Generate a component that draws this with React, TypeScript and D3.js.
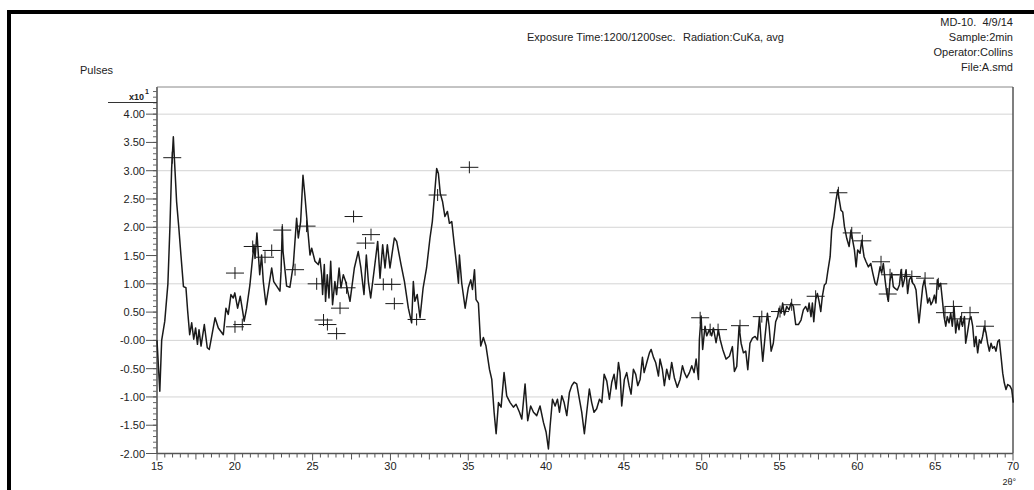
import React from "react";
import * as d3 from "d3";

// 2-theta positions and pulse counts (x10)
const twoTheta = [
  15.0, 15.1, 15.18, 15.3, 15.5, 15.7, 15.83, 15.94, 16.05, 16.12, 16.26, 16.4, 16.54, 16.7, 16.86, 16.97,
  17.1, 17.23, 17.36, 17.48, 17.6, 17.7, 17.83, 18.04, 18.23, 18.36, 18.5, 18.73, 18.94, 19.26, 19.43, 19.58,
  19.75, 19.9, 20.0, 20.18, 20.35, 20.5, 20.6, 20.76, 20.97, 21.12, 21.23, 21.3, 21.42, 21.6, 21.72, 21.83,
  22.0, 22.2, 22.37, 22.5, 22.9, 22.97, 23.05, 23.1, 23.33, 23.54, 23.76, 23.97, 24.08, 24.23, 24.38, 24.5,
  24.68, 24.83, 24.94, 25.15, 25.36, 25.47, 25.58, 25.64, 25.75, 25.83, 25.94, 26.05, 26.16, 26.28, 26.43, 26.54,
  26.7, 26.82, 26.97, 27.12, 27.4, 27.68, 27.93, 28.1, 28.3, 28.45, 28.58, 28.73, 28.97, 29.18, 29.33, 29.5,
  29.65, 29.8, 29.97, 30.25, 30.4, 30.68, 30.9, 31.15, 31.36, 31.47, 31.57, 31.72, 31.9, 32.1, 32.32, 32.54,
  32.69, 32.97, 33.08, 33.2, 33.35, 33.5, 33.66, 33.79, 33.94, 34.09, 34.26, 34.37, 34.43, 34.58, 34.8, 35.0,
  35.16, 35.27, 35.4, 35.5, 35.65, 35.8, 35.97, 36.14, 36.36, 36.51, 36.66, 36.79, 36.94, 37.11, 37.3, 37.47,
  37.69, 37.9, 38.07, 38.29, 38.44, 38.65, 38.82, 39.01, 39.19, 39.4, 39.61, 39.83, 40.0, 40.15, 40.26, 40.41,
  40.58, 40.73, 40.86, 41.01, 41.16, 41.33, 41.5, 41.65, 41.8, 41.97, 42.14, 42.29, 42.46, 42.61, 42.78, 42.93,
  43.08, 43.25, 43.43, 43.58, 43.73, 43.9, 44.07, 44.22, 44.37, 44.5, 44.65, 44.75, 44.86, 45.03, 45.18, 45.33,
  45.46, 45.61, 45.76, 45.89, 46.04, 46.19, 46.3, 46.47, 46.64, 46.75, 46.9, 47.04, 47.22, 47.32, 47.47, 47.6,
  47.75, 47.92, 48.07, 48.24, 48.43, 48.61, 48.76, 48.89, 49.04, 49.21, 49.36, 49.51, 49.64, 49.79, 49.85, 49.96,
  50.06, 50.21, 50.32, 50.49, 50.64, 50.75, 50.92, 51.07, 51.18, 51.35, 51.56, 51.78, 51.97, 52.1, 52.25, 52.4,
  52.53, 52.68, 52.83, 52.96, 53.1, 53.26, 53.43, 53.58, 53.71, 53.81, 53.92, 54.07, 54.22, 54.33, 54.46, 54.6,
  54.75, 54.88, 54.97, 55.1, 55.2, 55.31, 55.46, 55.61, 55.74, 55.89, 56.04, 56.21, 56.38, 56.53, 56.68, 56.81,
  56.9, 57.02, 57.11, 57.2, 57.32, 57.43, 57.54, 57.65, 57.75, 57.88, 57.99, 58.1, 58.25, 58.35, 58.5, 58.63,
  58.74, 58.84, 58.95, 59.06, 59.17, 59.32, 59.47, 59.59, 59.7, 59.81, 59.92, 60.02, 60.17, 60.28, 60.43, 60.56,
  60.71, 60.86, 60.99, 61.14, 61.24, 61.35, 61.46, 61.56, 61.67, 61.78, 61.89, 61.99, 62.1, 62.21, 62.31, 62.42,
  62.57, 62.7, 62.81, 62.91, 63.02, 63.13, 63.23, 63.34, 63.45, 63.56, 63.66, 63.77, 63.86, 63.96, 64.09, 64.2,
  64.3, 64.41, 64.52, 64.63, 64.73, 64.84, 64.95, 65.05, 65.14, 65.25, 65.35, 65.46, 65.57, 65.68, 65.78, 65.89,
  66.0, 66.1, 66.21, 66.32, 66.42, 66.53, 66.64, 66.75, 66.88, 66.96, 67.07, 67.2, 67.3, 67.41, 67.52, 67.62,
  67.73, 67.84, 67.94, 68.05, 68.16, 68.27, 68.37, 68.48, 68.59, 68.69, 68.8, 68.91, 69.02, 69.12, 69.23, 69.34,
  69.44, 69.55, 69.66, 69.81, 69.92, 70.02,
];
const pulses = [
  0.0, -0.5, -0.9, 0.0, 0.34, 1.0, 2.0, 3.04, 3.6, 3.2, 2.45, 2.0, 1.5, 0.95, 0.93, 0.52,
  0.1, 0.31, 0.02, 0.22, -0.07, 0.19, -0.1, 0.28, -0.13, -0.16, 0.05, 0.4, 0.22, 0.1, 0.57, 0.46,
  0.81, 0.75, 0.84, 0.57, 0.78, 0.52, 0.34, 0.57, 0.98, 1.4, 1.69, 1.45, 1.9, 1.16, 1.51, 1.04,
  0.63, 0.98, 1.28, 1.04, 0.87, 1.22, 2.01, 1.57, 0.96, 0.94, 1.34, 2.16, 1.81, 2.1, 2.92, 2.57,
  1.98, 1.51, 1.63, 1.4, 1.34, 1.45, 1.16, 0.81, 1.34, 0.69, 1.16, 0.75, 1.4, 0.63, 1.04, 0.81,
  1.28, 0.93, 1.16, 1.04, 0.69, 1.28, 1.57, 1.28, 0.81, 1.51, 1.04, 0.75, 1.28, 1.75, 1.1, 1.69,
  1.28, 1.69, 1.28, 1.81, 1.75, 1.34, 1.04, 0.57, 0.31, 1.04, 0.69, 0.81, 0.4, 0.93, 1.28, 1.81,
  2.1, 3.04, 2.95, 2.6, 2.45, 2.19, 2.28, 2.07, 2.1, 1.72, 1.31, 1.01, 1.51, 1.01, 0.57, 0.93,
  1.07, 0.9, 1.25, 0.72, 0.66, -0.1, 0.05, -0.1, -0.51, -0.69, -1.27, -1.65, -1.1, -1.18, -0.57, -0.98,
  -1.1, -1.18, -1.13, -1.27, -1.39, -0.77, -1.42, -1.16, -1.27, -1.33, -1.16, -1.45, -1.62, -1.92, -1.51, -1.04,
  -1.16, -1.04, -1.27, -0.98, -1.1, -1.33, -0.92, -0.8, -0.74, -0.77, -1.04, -1.27, -1.65, -1.27, -0.86, -1.1,
  -1.27, -1.21, -1.04, -1.1, -0.6, -0.72, -1.04, -0.74, -0.6, -0.86, -0.39, -0.57, -1.16, -0.69, -0.57, -0.8,
  -0.95, -0.51, -0.6, -0.8, -0.69, -0.3, -0.57, -0.39, -0.22, -0.16, -0.3, -0.39, -0.63, -0.33, -0.51, -0.8,
  -0.51, -0.69, -0.39, -0.66, -0.83, -0.69, -0.45, -0.57, -0.66, -0.57, -0.45, -0.57, -0.33, -0.69, 0.02, 0.43,
  -0.16, 0.25, 0.08, 0.19, 0.08, 0.22, -0.04, 0.19, 0.02, -0.16, -0.33, -0.28, -0.11, -0.55, -0.46, 0.25,
  -0.05, -0.22, -0.19, -0.52, -0.05, 0.04, 0.07, 0.01, 0.42, 0.01, -0.37, 0.07, 0.48, 0.25, -0.19, -0.05,
  0.33, 0.42, 0.57, 0.48, 0.66, 0.45, 0.6, 0.54, 0.66, 0.6, 0.28, 0.28, 0.36, 0.54, 0.6, 0.51,
  0.66, 0.42, 0.66, 0.33, 0.72, 0.83, 0.69, 0.51, 0.78, 0.98, 1.01, 1.22, 1.48, 1.95, 2.19, 2.48,
  2.66, 2.48, 2.3, 2.27, 2.01, 1.8, 1.66, 1.95, 1.77, 1.6, 1.3, 1.6, 1.54, 1.77, 1.48, 1.39,
  1.3, 1.36, 1.19, 1.01, 0.98, 1.13, 1.3, 1.19, 1.36, 1.07, 0.83, 0.69, 1.07, 1.19, 0.95, 0.92,
  0.89, 0.98, 1.25, 0.95, 1.07, 1.25, 0.83, 1.07, 1.13, 1.01, 0.98, 0.89, 0.6, 0.31, 0.66, 0.95,
  1.07, 0.89, 0.66, 0.75, 0.63, 0.69, 0.8, 0.66, 1.07, 0.95, 1.01, 0.72, 0.42, 0.25, 0.42, 0.31,
  0.48, 0.25, 0.6, 0.13, 0.36, 0.19, 0.42, 0.25, 0.42, -0.05, 0.13, 0.36, 0.42, 0.25, -0.11, 0.07,
  -0.22, 0.01, -0.05, 0.07, 0.25, 0.13, -0.05, -0.19, -0.05, -0.14, -0.11, -0.19, -0.02, 0.01, -0.28, -0.58,
  -0.75, -0.87, -0.78, -0.81, -0.87, -1.1,
];

// peak markers (+)
const peakTheta = [
  15.98, 20.01, 20.01, 20.48, 21.15, 21.94, 22.37, 23.05, 23.87, 24.61, 25.26, 25.7, 25.95, 26.54, 26.76, 27.18,
  27.63, 28.4, 28.75, 29.54, 30.08, 30.25, 31.68, 33.03, 35.07, 49.9, 50.54, 51.05, 52.46, 53.86, 55.03, 55.78,
  57.32, 58.78, 59.64, 60.32, 61.52, 61.95, 62.1, 62.85, 63.5, 64.35, 65.2, 65.63, 66.17, 66.7, 67.24, 68.2,
];
const peakPulses = [
  3.23, 1.19, 0.24, 0.28, 1.66, 1.47, 1.59, 1.95, 1.25, 2.02, 1.0, 0.36, 0.28, 0.12, 0.57, 0.93,
  2.19, 1.72, 1.87, 0.99, 0.99, 0.65, 0.37, 2.57, 3.06, 0.4, 0.19, 0.19, 0.26, 0.42, 0.51, 0.63,
  0.78, 2.61, 1.9, 1.76, 1.39, 0.82, 1.16, 1.16, 1.13, 1.1, 1.0, 0.49, 0.6, 0.38, 0.49, 0.25,
];

const yMajor = [4, 3.5, 3, 2.5, 2, 1.5, 1, 0.5, 0, -0.5, -1, -1.5, -2];
const yLabels = ["4.00", "3.50", "3.00", "2.50", "2.00", "1.50", "1.00", "0.50", "-0.00", "-0.50", "-1.00", "-1.50", "-2.00"];
const gridValues = [4, 3, 2, 1, 0, -1];
const xMajor = [15, 20, 25, 30, 35, 40, 45, 50, 55, 60, 65, 70];

const App = () => {
  const W = 1034;
  const H = 490;
  const left = 157;
  const right = 1013;
  const top = 87;
  const bottom = 453.5;

  const x = d3.scaleLinear().domain([15, 70]).range([left, right]);
  const y = d3.scaleLinear().domain([-2, 4.48]).range([bottom, top]);

  const data = twoTheta.map((t, i) => ({ t, v: pulses[i] }));
  const path = d3.line<{ t: number; v: number }>()
    .x(d => x(d.t))
    .y(d => y(d.v))(data);

  const yMinor = d3.range(-20, 45).map(k => k / 10);
  const xMinor = d3.range(30, 141).map(k => k / 2);

  const font = "'Liberation Sans', Arial, sans-serif";

  return (
    <svg width={W} height={H} style={{ position: "absolute", left: 0, top: 0 }} fontFamily={font}>
      <rect x={0} y={0} width={W} height={H} fill="#fff" />
      {/* thick frame at top and left */}
      <rect x={7} y={10} width={W - 7} height={4} fill="#000" />
      <rect x={7} y={10} width={4} height={H - 10} fill="#000" />

      <g fontSize={11} fill="#222">
        <text x={right} y={26} textAnchor="end" style={{ whiteSpace: "pre" }}>MD-10.  4/9/14</text>
        <text x={527} y={41}>Exposure Time:1200/1200sec.</text>
        <text x={683} y={41}>Radiation:CuKa, avg</text>
        <text x={right} y={41} textAnchor="end">Sample:2min</text>
        <text x={right} y={56} textAnchor="end">Operator:Collins</text>
        <text x={right} y={71} textAnchor="end">File:A.smd</text>
      </g>
      <text x={80} y={74} fontSize={11} fill="#222">Pulses</text>

      {/* grid */}
      {gridValues.map(v => (
        <line key={v} x1={left} x2={right} y1={y(v)} y2={y(v)} stroke="#d4d4d4" strokeWidth={1} />
      ))}

      {/* frame */}
      <line x1={left} x2={right} y1={top} y2={top} stroke="#888" strokeWidth={1} />
      <line x1={right} x2={right} y1={top} y2={bottom} stroke="#555" strokeWidth={1.5} />
      <line x1={left} x2={left} y1={top} y2={bottom} stroke="#777" strokeWidth={2} />
      <line x1={left} x2={right} y1={bottom} y2={bottom} stroke="#555" strokeWidth={1.5} />

      {/* y ticks */}
      {yMinor.map(v => (
        <line key={"ym" + v} x1={left - 4} x2={left} y1={y(v)} y2={y(v)} stroke="#666" strokeWidth={1} />
      ))}
      {yMajor.map((v, i) => (
        <g key={"yM" + v}>
          <line x1={left - 11} x2={left} y1={y(v)} y2={y(v)} stroke="#555" strokeWidth={1} />
          <text x={left - 12} y={y(v) + 4} textAnchor="end" fontSize={11} fill="#222">{yLabels[i]}</text>
        </g>
      ))}
      <text x={left - 13} y={100} textAnchor="end" fontSize={9} fontWeight="bold" fill="#222">x10</text>
      <text x={left - 12} y={94} fontSize={7} fontWeight="bold" fill="#222">1</text>
      <line x1={108} x2={left} y1={102.5} y2={102.5} stroke="#333" strokeWidth={1} />

      {/* x ticks */}
      {xMinor.map(v => {
        const len = v % 5 === 0 ? 7 : v % 2.5 === 0 ? 6 : 4;
        return <line key={"xm" + v} x1={x(v)} x2={x(v)} y1={bottom} y2={bottom + len} stroke="#555" strokeWidth={1} />;
      })}
      {xMajor.map(v => (
        <text key={"xl" + v} x={x(v)} y={bottom + 16} textAnchor="middle" fontSize={11} fill="#222">{v}</text>
      ))}
      <text x={right + 3} y={485} textAnchor="end" fontSize={9} fill="#222">2θ°</text>

      {/* trace */}
      <path d={path || ""} fill="none" stroke="#1a1a1a" strokeWidth={1.5} strokeLinejoin="round" />

      {/* peak markers */}
      {peakTheta.map((t, i) => (
        <g key={"p" + i} stroke="#1a1a1a" strokeWidth={1}>
          <line x1={x(t) - 9} x2={x(t) + 9} y1={y(peakPulses[i])} y2={y(peakPulses[i])} />
          <line x1={x(t)} x2={x(t)} y1={y(peakPulses[i]) - 6} y2={y(peakPulses[i]) + 6} />
        </g>
      ))}
    </svg>
  );
};

export default App;
